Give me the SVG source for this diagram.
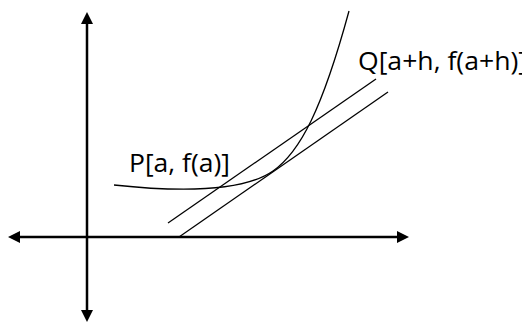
<svg xmlns="http://www.w3.org/2000/svg" width="522" height="322" viewBox="0 0 522 322">
<defs>
<style>
.axis{stroke:#000;stroke-width:2.5;fill:none}
.thin{stroke:#000;stroke-width:1.3;fill:none}
.lbl{font-family:"Open Sans","Liberation Sans",sans-serif;font-size:25px;fill:#000}
</style>
<marker id="arr" viewBox="0 0 12 12" refX="2" refY="6" markerWidth="12" markerHeight="12" markerUnits="userSpaceOnUse" orient="auto-start-reverse">
<path d="M0,0 L12,6 L0,12 z" fill="#000"/>
</marker>
</defs>
<rect width="522" height="322" fill="#fff"/>
<g id="axes">
<line class="axis" x1="87" y1="22" x2="87" y2="312" marker-start="url(#arr)" marker-end="url(#arr)"/>
<line class="axis" x1="18" y1="237" x2="399" y2="237" marker-start="url(#arr)" marker-end="url(#arr)"/>
</g>
<g id="curve">
<path class="thin" d="M114,185 C170,191 240,194 273,171 C300,152 322,110 349,11"/>
</g>
<g id="connectors">
<line class="thin" x1="168" y1="223" x2="376" y2="79"/>
<line class="thin" x1="179" y1="237" x2="388" y2="92"/>
</g>
<g id="labelP">
<text class="lbl" x="129" y="172" textLength="101" lengthAdjust="spacingAndGlyphs">P[a, f(a)]</text>
</g>
<g id="labelQ">
<text class="lbl" x="358" y="70" textLength="169" lengthAdjust="spacingAndGlyphs">Q[a+h, f(a+h)]</text>
</g>
</svg>
